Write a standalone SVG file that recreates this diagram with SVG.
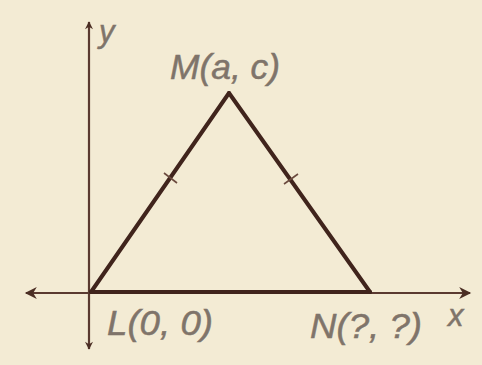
<svg xmlns="http://www.w3.org/2000/svg" width="482" height="365" viewBox="0 0 482 365">
  <defs>
    <marker id="arrL" viewBox="0 0 10 10" refX="9" refY="5" markerWidth="24" markerHeight="12" markerUnits="userSpaceOnUse" orient="auto-start-reverse">
      <path d="M0,0 L10,5 L0,10 L3,5 Z" fill="#4b2e24"/>
    </marker>
    <marker id="arrV" viewBox="0 0 10 10" refX="9" refY="5" markerWidth="14" markerHeight="8" markerUnits="userSpaceOnUse" orient="auto-start-reverse">
      <path d="M0,0 L10,5 L0,10 L3,5 Z" fill="#4b2e24"/>
    </marker>
  </defs>
  <style>
    .axis { stroke: #5a3a30; stroke-width: 2.2; fill: none; }
    .edge { stroke: #40241c; stroke-width: 4; fill: none; stroke-linecap: round; }
    .tick { stroke: #6b4a3e; stroke-width: 1.6; }
    .lbl { font-family: "Liberation Sans", Arial, sans-serif; font-style: italic; fill: #7f746a; stroke: #7f746a; stroke-width: 0.5; }
  </style>
  <rect x="0" y="0" width="482" height="365" fill="#f3ebd4"/>
  <g id="connectors">
    <line id="x-axis" class="axis" x1="26" y1="293" x2="470" y2="293" marker-start="url(#arrL)" marker-end="url(#arrL)"/>
    <line id="y-axis" class="axis" x1="89" y1="22" x2="89" y2="349" marker-start="url(#arrV)" marker-end="url(#arrV)"/>
    <line id="edge-LM" class="edge" x1="91" y1="292" x2="229" y2="93"/>
    <line id="edge-MN" class="edge" x1="229" y1="93" x2="370" y2="292"/>
    <line id="edge-LN" class="edge" x1="91" y1="292" x2="370" y2="292"/>
    <line class="tick" x1="164" y1="173" x2="177" y2="183"/>
    <line class="tick" x1="284" y1="184" x2="298" y2="174"/>
  </g>
  <g id="node-M">
    <text class="lbl" x="170" y="79" font-size="35" textLength="110" lengthAdjust="spacingAndGlyphs">M(a, c)</text>
  </g>
  <g id="node-L">
    <text class="lbl" x="107" y="335" font-size="35" textLength="106" lengthAdjust="spacingAndGlyphs">L(0, 0)</text>
  </g>
  <g id="node-N">
    <text class="lbl" x="310" y="338" font-size="35" textLength="112" lengthAdjust="spacingAndGlyphs">N(?, ?)</text>
  </g>
  <g id="label-y">
    <text class="lbl" x="99" y="42" font-size="31">y</text>
  </g>
  <g id="label-x">
    <text class="lbl" x="448" y="326" font-size="31">x</text>
  </g>
</svg>
